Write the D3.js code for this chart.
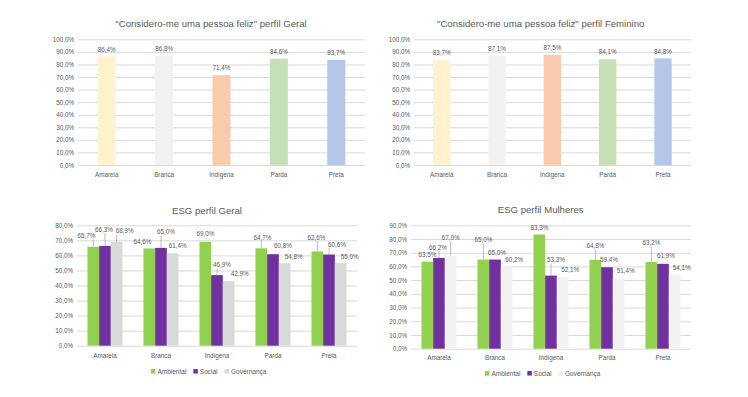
<!DOCTYPE html>
<html>
<head>
<meta charset="utf-8">
<script src="https://cdn.jsdelivr.net/npm/d3@7"></script>
<style>
  body { margin: 0; background: #fff; }
  text { font-family: "Liberation Sans", Arial, sans-serif; fill: #595959; }
</style>
</head>
<body>
<svg id="chart" width="748" height="397"></svg>
<script>
// data
const categories = ["Amarela", "Branca", "Indígena", "Parda", "Preta"];
const felizGeral = [86.4, 86.8, 71.4, 84.6, 83.7];
const felizFeminino = [83.7, 87.1, 87.5, 84.1, 84.8];
const felizColors = ["#FFF2CC", "#F2F2F2", "#F8CBAD", "#C5E0B4", "#B4C7E7"];

const seriesNames = ["Ambiental", "Social", "Governança"];
const geralAmbiental = [65.7, 64.6, 69.0, 64.7, 62.6];
const geralSocial = [66.3, 65.0, 46.9, 60.8, 60.6];
const geralGovernanca = [68.9, 61.4, 42.9, 54.8, 55.0];
const mulheresAmbiental = [63.5, 65.0, 83.3, 64.8, 63.2];
const mulheresSocial = [66.2, 65.0, 53.3, 59.4, 61.9];
const mulheresGovernanca = [67.9, 60.2, 52.1, 51.4, 54.1];

const felizTicks = d3.range(0, 101, 10);
const geralTicks = d3.range(0, 81, 10);
const mulheresTicks = d3.range(0, 91, 10);

// hand-placed data label nudges (dx, dy) like in the original sheet
const geralNudge = [
  [[-7, -4], [-1, -9.5], [8, -4]],
  [[-7, 0], [5, -9], [5, 0]],
  [[0, -1], [5, -3], [11, 0]],
  [[1, -4], [10, -1], [9, 1]],
  [[-1, -7], [8, -3], [9, 1]]
];
const mulheresNudge = [
  [[0, 0], [-1, -3.6], [0, -11]],
  [[0, -13], [2, 0], [7.5, 1]],
  [[0, 0], [5, -8.6], [7.6, 0]],
  [[0, -7], [2, 0], [7, 0]],
  [[0, -12], [3, -1], [7, 0]]
];

const ptLocale = d3.formatLocale({decimal: ",", thousands: ".", grouping: [3], currency: ["R$", ""]});
const f1 = ptLocale.format(".1f");
const pct = v => f1(v) + "%";

const svg = d3.select("#chart");
const gridColor = "#D9D9D9";

function styleAxis(sel) {
  sel.select(".domain").remove();
  sel.selectAll("line").attr("stroke", gridColor).attr("stroke-width", 1);
  sel.selectAll("text").attr("font-family", null).style("fill", "#595959").attr("font-size", 6.3);
}

function drawFeliz(values, ticks, title, box) {
  const g = svg.append("g");
  const x = d3.scaleBand().domain(categories).range([box.left, box.right])
    .paddingInner(0.686).paddingOuter(0.343);
  const y = d3.scaleLinear().domain([0, d3.max(ticks)]).range([box.bottom, box.top]);

  g.append("g").attr("transform", `translate(${box.left},0)`)
    .call(d3.axisLeft(y).tickValues(ticks).tickSize(-(box.right - box.left)).tickPadding(4).tickFormat(pct))
    .call(styleAxis);

  g.append("g").attr("transform", `translate(0,${box.bottom})`)
    .call(d3.axisBottom(x).tickSize(0).tickPadding(7.7))
    .call(styleAxis);

  g.selectAll("rect.bar").data(values).enter().append("rect")
    .attr("class", "bar")
    .attr("x", (d, i) => x(categories[i]))
    .attr("y", d => y(d))
    .attr("width", x.bandwidth())
    .attr("height", d => box.bottom - y(d))
    .attr("fill", (d, i) => felizColors[i]);

  g.selectAll("text.lbl").data(values).enter().append("text")
    .attr("class", "lbl")
    .attr("x", (d, i) => x(categories[i]) + x.bandwidth() / 2)
    .attr("y", d => y(d) - 7)
    .attr("dy", "0.35em")
    .attr("text-anchor", "middle")
    .attr("font-size", 6.3)
    .text(pct);

  g.append("text")
    .attr("x", box.titleX).attr("y", box.titleY)
    .attr("text-anchor", "middle")
    .attr("font-size", 9.6)
    .text(title);
}

function drawESG(series, ticks, colors, nudge, title, box) {
  const g = svg.append("g");
  const x = d3.scaleBand().domain(categories).range([box.left, box.right])
    .paddingInner(0.375).paddingOuter(0.1875);
  const xs = d3.scaleBand().domain(seriesNames).range([0, x.bandwidth()]);
  const y = d3.scaleLinear().domain([0, d3.max(ticks)]).range([box.bottom, box.top]);

  g.append("g").attr("transform", `translate(${box.left},0)`)
    .call(d3.axisLeft(y).tickValues(ticks).tickSize(-(box.right - box.left)).tickPadding(4).tickFormat(pct))
    .call(styleAxis);

  g.append("g").attr("transform", `translate(0,${box.bottom})`)
    .call(d3.axisBottom(x).tickSize(0).tickPadding(box.catPad))
    .call(styleAxis);

  const rows = [];
  categories.forEach((c, i) => {
    seriesNames.forEach((s, j) => {
      rows.push({cat: c, ser: s, ci: i, si: j, v: series[j][i]});
    });
  });

  g.selectAll("rect.bar").data(rows).enter().append("rect")
    .attr("class", "bar")
    .attr("x", d => x(d.cat) + xs(d.ser))
    .attr("y", d => y(d.v))
    .attr("width", xs.bandwidth())
    .attr("height", d => box.bottom - y(d.v))
    .attr("fill", d => colors[d.si]);

  // labels with leader lines where they were pulled away from the bar
  rows.forEach(d => {
    const bx = x(d.cat) + xs(d.ser) + xs.bandwidth() / 2;
    const top = y(d.v);
    const [dx, dy] = nudge[d.ci][d.si];
    const lx = bx + dx;
    const ly = top - 7 + dy;
    const t = g.append("text")
      .attr("x", lx).attr("y", ly)
      .attr("dy", "0.35em")
      .attr("text-anchor", "middle")
      .attr("font-size", 6.3)
      .text(pct(d.v));
    const w = t.node().getComputedTextLength();
    const gap = top - (ly + 3.5);
    if (gap > 5) {
      const sx = Math.max(lx - w / 2 + 1, Math.min(lx + w / 2 - 1, bx));
      g.append("line")
        .attr("x1", sx).attr("y1", ly + 3.5)
        .attr("x2", bx).attr("y2", top)
        .attr("stroke", "#A6A6A6").attr("stroke-width", 0.75);
    }
  });

  g.append("text")
    .attr("x", box.titleX).attr("y", box.titleY)
    .attr("text-anchor", "middle")
    .attr("font-size", 9.6)
    .text(title);

  // legend
  const leg = g.append("g");
  let cx = 0;
  seriesNames.forEach((s, j) => {
    leg.append("rect").attr("x", cx).attr("y", -2.25).attr("width", 4.5).attr("height", 4.5).attr("fill", colors[j]);
    const t = leg.append("text").attr("x", cx + 6.5).attr("y", 0).attr("dy", "0.35em")
      .attr("font-size", 6.5).text(s);
    cx += 6.5 + t.node().getComputedTextLength() + 7;
  });
  const total = cx - 7;
  leg.attr("transform", `translate(${box.legendX - total / 2},${box.legendY})`);
}

drawFeliz(felizGeral, felizTicks, "\"Considero-me uma pessoa feliz\" perfil Geral",
  {left: 78, right: 365, top: 39.3, bottom: 165, titleX: 211, titleY: 26.5});
drawFeliz(felizFeminino, felizTicks, "\"Considero-me uma pessoa feliz\" perfil Feminino",
  {left: 414, right: 690.7, top: 39.3, bottom: 165, titleX: 540.7, titleY: 26.5});

drawESG([geralAmbiental, geralSocial, geralGovernanca], geralTicks,
  ["#92D050", "#7030A0", "#D9D9D9"], geralNudge, "ESG perfil Geral",
  {left: 77, right: 357, top: 225.3, bottom: 345.7, catPad: 7.7, titleX: 207, titleY: 213.5, legendX: 208.7, legendY: 371.3});
drawESG([mulheresAmbiental, mulheresSocial, mulheresGovernanca], mulheresTicks,
  ["#92D050", "#7030A0", "#F2F2F2"], mulheresNudge, "ESG perfil Mulheres",
  {left: 411, right: 691, top: 225.3, bottom: 348.7, catPad: 7, titleX: 540.7, titleY: 212.5, legendX: 542.7, legendY: 373.3});
</script>
</body>
</html>
